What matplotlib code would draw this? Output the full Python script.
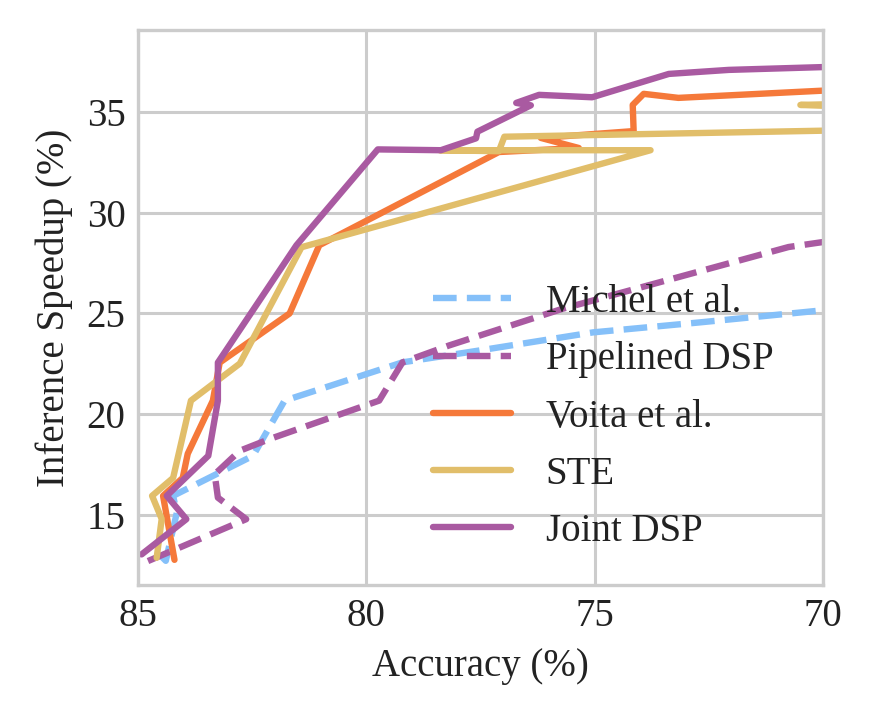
import matplotlib
matplotlib.use('Agg')
import matplotlib.pyplot as plt

# accuracy (%) vs inference speedup (%)
michel_acc = [84.52, 84.39, 84.15, 84.23, 82.48, 81.79, 79.21, 77.53, 75.04, 72.73, 70.0]
michel_speed = [13.0, 12.7, 15.08, 15.93, 17.92, 20.66, 22.56, 23.15, 24.05, 24.54, 25.15]

pipe_acc = [84.78, 82.63, 83.25, 83.32, 82.77, 82.12, 79.72, 79.21, 78.19, 75.71, 70.76, 70.0]
pipe_speed = [12.69, 14.77, 15.84, 17.0, 18.17, 18.75, 20.66, 22.56, 23.4, 25.22, 28.29, 28.54]

voita_acc = [84.2, 84.45, 84.02, 83.91, 83.36, 83.21, 81.68, 81.03, 77.10, 75.35, 76.18,
             74.15, 74.17, 73.93, 73.17, 70.0]
voita_speed = [12.75, 15.93, 16.82, 18.02, 20.66, 22.55, 24.99, 28.38, 33.01, 33.21, 33.71,
               34.05, 35.35, 35.9, 35.7, 36.06]

ste_acc = [84.59, 84.48, 84.69, 84.23, 83.84, 82.77, 81.42, 73.78, 78.4, 77.1, 76.98,
           60.0, 70.5, 60.0]
ste_speed = [12.85, 14.78, 15.93, 16.82, 20.66, 22.5, 28.28, 33.1, 33.1, 33.05, 33.77,
             34.5, 35.35, 35.9]

joint_acc = [84.92, 83.94, 84.37, 83.46, 83.25, 83.25, 81.53, 79.75, 78.37, 77.6, 77.57,
             76.4, 76.72, 76.22, 75.06, 73.38, 72.07, 70.0]
joint_speed = [13.02, 14.77, 15.93, 17.92, 20.66, 22.55, 28.38, 33.14, 33.1, 33.69, 34.02,
               35.33, 35.45, 35.85, 35.73, 36.89, 37.09, 37.23]

labels = ['Michel et al.', 'Pipelined DSP', 'Voita et al.', 'STE', 'Joint DSP']
colors = ['#85C0F9', '#A95AA1', '#F5793A', '#E1BE6A', '#A95AA1']

plt.rcParams['font.family'] = ['Liberation Serif', 'DejaVu Serif']
plt.rcParams['font.size'] = 28

fig = plt.figure(figsize=(8.73, 7.2), dpi=100)
ax = fig.add_axes([0.158, 0.1875, 0.785, 0.7705])

lw = 4.6
series = [(michel_acc, michel_speed, '--'), (pipe_acc, pipe_speed, '--'),
          (voita_acc, voita_speed, '-'), (ste_acc, ste_speed, '-'),
          (joint_acc, joint_speed, '-')]
for (xs, ys, ls), lab, col in zip(series, labels, colors):
    ax.plot(xs, ys, ls, color=col, lw=lw, label=lab,
            solid_capstyle='round', solid_joinstyle='round', dash_capstyle='butt')

ax.set_xlim(85, 70)
ax.set_ylim(11.5, 39.06)
ax.set_xticks([85, 80, 75, 70])
ax.set_yticks([15, 20, 25, 30, 35])
ax.grid(True, color='#cccccc', lw=2.2)
ax.set_axisbelow(True)
for sp in ax.spines.values():
    sp.set_color('#cccccc')
    sp.set_linewidth(2.4)
ax.tick_params(length=0, pad=9, labelcolor='#222222')

ax.set_xlabel('Accuracy (%)', color='#222222', labelpad=10)
ax.set_ylabel('Inference Speedup (%)', color='#222222', labelpad=10)

# legend sits a little left of the lower right corner
leg = ax.legend(loc='lower right', bbox_to_anchor=(0.978, 0.0), frameon=False,
                labelspacing=0.52, handlelength=2.0, handletextpad=0.9)
for t in leg.get_texts():
    t.set_color('#222222')

fig.savefig('out.png', dpi=100)
